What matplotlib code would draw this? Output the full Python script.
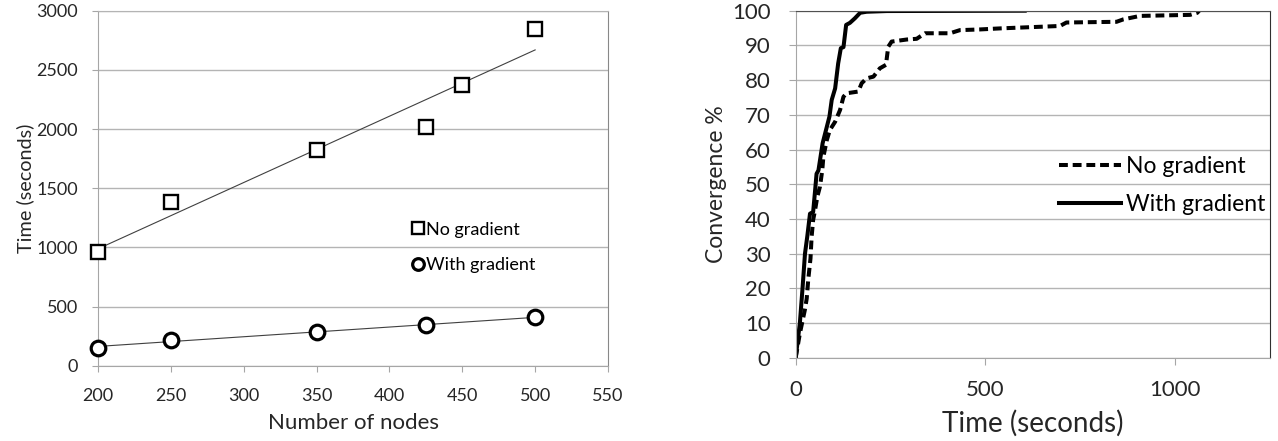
import numpy as np
import matplotlib
matplotlib.use('Agg')
import matplotlib.pyplot as plt

plt.rcParams['font.family'] = ['Lato', 'DejaVu Sans']

# left chart: time vs number of nodes
nodes_no = [200, 250, 350, 425, 450, 500]
time_no = [958, 1380, 1823, 2014, 2372, 2842]
nodes_with = [200, 250, 350, 425, 500]
time_with = [152, 217, 287, 344, 408]

# right chart: convergence curves
t_no = [0, 11, 24, 29, 33, 39, 42, 46, 51, 57, 64, 70, 73, 82, 90, 104, 117, 126, 134,
        165, 174, 187, 205, 222, 238, 244, 253, 293, 319, 341, 407, 433, 486, 539, 697,
        714, 846, 864, 908, 1040, 1059, 1064]
c_no = [0, 7, 13.7, 17, 22.4, 28.6, 34.9, 39.7, 42.5, 46.4, 49.3, 54, 57.9, 62.7, 65.6,
        68, 71.4, 75.2, 76.2, 76.7, 79.1, 80.5, 81, 83.4, 84.4, 89.6, 91.1, 91.7, 91.9,
        93.5, 93.5, 94.4, 94.6, 94.9, 95.6, 96.6, 96.8, 97.5, 98.5, 98.8, 99.4, 100]
t_with = [0, 11, 18, 24.5, 30.6, 37.7, 46, 51, 55, 60, 71, 89, 95, 104, 112, 119, 126,
          133, 143, 156, 170, 187, 240, 604]
c_with = [0, 10, 20, 30, 35, 41.5, 42, 48, 53, 54, 61.8, 69.5, 74.3, 77.6, 84.8, 89.2,
          89.5, 95.9, 96.5, 97.8, 99.4, 99.7, 99.9, 100]

W, H = 1278, 441
fig = plt.figure(figsize=(W / 100, H / 100), dpi=100)

grid_c = '#b4b4b4'
axis_c = '#a6a6a6'
txt_c = '#262626'

# ---- left
ax1 = fig.add_axes([98 / W, 1 - 365.7 / H, 510 / W, 355 / H])
ax1.plot(nodes_no, time_no, ls='none', marker='s', ms=10.5, mfc='white', mec='black',
         mew=1.7, label='No gradient', zorder=4, clip_on=False)
ax1.plot(nodes_with, time_with, ls='none', marker='o', ms=10.5, mfc='white', mec='black',
         mew=2.3, label='With gradient', zorder=4, clip_on=False)
for xs, ys in [(nodes_no, time_no), (nodes_with, time_with)]:
    p = np.polyfit(xs, ys, 1)
    xx = np.array([min(xs), max(xs)])
    ax1.plot(xx, np.polyval(p, xx), color='#404040', lw=0.8, zorder=3)
ax1.set_xlim(200, 550)
ax1.set_ylim(0, 3000)
ax1.set_xticks(range(200, 551, 50))
ax1.set_yticks(range(0, 3001, 500))
ax1.yaxis.grid(True, color=grid_c, lw=1)
ax1.set_axisbelow(True)
for s in ['left', 'bottom']:
    ax1.spines[s].set_color(axis_c)
ax1.spines['top'].set_color(grid_c)
ax1.spines['right'].set_color('#888888')
ax1.tick_params(axis='both', direction='out', length=4.3, color=axis_c, labelsize=13,
                labelcolor=txt_c)
ax1.tick_params(axis='x', pad=12)
ax1.tick_params(axis='y', pad=10)
ax1.set_xlabel('Number of nodes', fontsize=16, color=txt_c, labelpad=6)
ax1.set_ylabel('Time (seconds)', fontsize=14.3, color=txt_c, labelpad=2)
ax1.legend(loc='center left', bbox_to_anchor=(0.600, 0.333), frameon=False,
           borderpad=0, fontsize=13, handlelength=0.55, handletextpad=0.15,
           labelspacing=1.1, markerscale=0.8)

# ---- right
ax2 = fig.add_axes([795.7 / W, 1 - 357.7 / H, 474 / W, 347 / H])
ax2.plot(t_no, c_no, color='black', lw=2.9, dashes=(2.2, 1.2), label='No gradient')
ax2.plot(t_with, c_with, color='black', lw=2.9, label='With gradient')
ax2.set_xlim(0, 1250)
ax2.set_ylim(0, 100)
ax2.set_xticks([0, 500, 1000])
ax2.set_yticks(range(0, 101, 10))
ax2.yaxis.grid(True, color=grid_c, lw=1)
ax2.set_axisbelow(True)
ax2.spines['left'].set_color(axis_c)
ax2.spines['bottom'].set_color(axis_c)
ax2.spines['top'].set_color('#505050')
ax2.spines['right'].set_color('#303030')
ax2.tick_params(axis='both', direction='out', length=5, color=axis_c, labelsize=16,
                labelcolor=txt_c)
ax2.tick_params(axis='x', pad=11)
ax2.tick_params(axis='y', pad=13)
ax2.set_xlabel('Time (seconds)', fontsize=20, color=txt_c, labelpad=7)
ax2.set_ylabel('Convergence %', fontsize=16.5, color=txt_c, labelpad=4)
ax2.legend(loc='center left', bbox_to_anchor=(0.531, 0.4957), frameon=False,
           borderpad=0, fontsize=16.5, handlelength=2.7, handletextpad=0.25,
           labelspacing=0.75)

fig.savefig('out.png', dpi=100)
